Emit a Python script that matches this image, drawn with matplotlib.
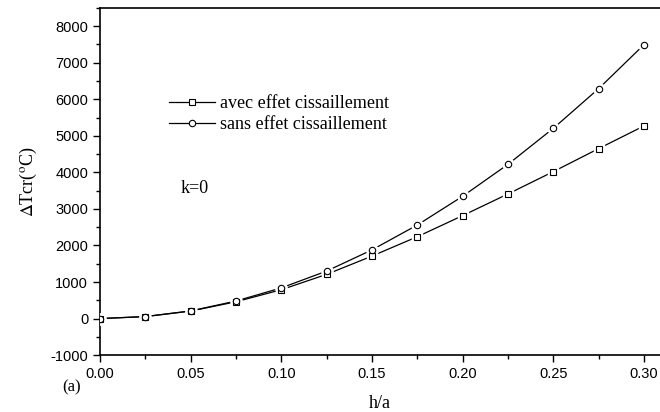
import numpy as np
import matplotlib.pyplot as plt
from matplotlib.ticker import MultipleLocator

plt.rcParams['mathtext.fontset'] = 'stix'
plt.rcParams['axes.unicode_minus'] = False

h_a = [0.0, 0.025, 0.05, 0.075, 0.1, 0.125, 0.15, 0.175, 0.2, 0.225, 0.25, 0.275, 0.3]
avec = [0, 55, 205, 460, 790, 1210, 1710, 2240, 2817, 3410, 4020, 4650, 5270]
sans = [0, 55, 210, 480, 840, 1300, 1880, 2560, 3346, 4220, 5205, 6291, 7494]

serif = 'Liberation Serif'
sans_font = 'Liberation Sans'

fig = plt.figure(figsize=(6.6, 4.12), dpi=100)
ax = fig.add_axes([0.1515, 0.138, 0.8485, 0.843])

for y, m, lab in [(avec, 's', 'avec effet cissaillement'), (sans, 'o', 'sans effet cissaillement')]:
    size = 3.8 if m == 's' else 4.6
    ax.plot(h_a, y, color='black', lw=0.9, zorder=2)
    # white halo so the line stops short of each marker
    ax.plot(h_a, y, ls='none', marker=m, ms=size + 3.5, mfc='white', mec='white', zorder=3)
    ax.plot(h_a, y, ls='none', marker=m, ms=size, mfc='white',
            mec='black', mew=0.8, zorder=4)
    ax.plot([], [], color='black', lw=0.9, marker=m, ms=size,
            mfc='white', mec='black', mew=0.8, label=lab)

ax.set_xlim(0, 0.3088)
ax.set_ylim(-1000, 8500)
ax.xaxis.set_minor_locator(MultipleLocator(0.025))
ax.yaxis.set_minor_locator(MultipleLocator(500))
ax.set_xticks(np.arange(0, 0.31, 0.05))
ax.set_xticklabels(['%.2f' % v for v in np.arange(0, 0.31, 0.05)])
ax.set_yticks(np.arange(-1000, 8001, 1000))
ax.tick_params(which='major', direction='out', length=5, width=1, labelsize=10.5)
ax.tick_params(which='minor', direction='out', length=3, width=1)
for lbl in ax.get_xticklabels() + ax.get_yticklabels():
    lbl.set_family(sans_font)
ax.spines['right'].set_visible(False)
for s in ['left', 'bottom', 'top']:
    ax.spines[s].set_linewidth(1.2)

ax.set_xlabel('h/a', fontsize=13, family=serif, labelpad=10)
ax.set_ylabel(r'$\Delta$Tcr($^{\rm o}$C)', fontsize=13, family=serif, labelpad=8)

leg = ax.legend(loc='upper left', bbox_to_anchor=(0.108, 0.774), frameon=False,
                prop={'family': serif, 'size': 13}, handlelength=2.5,
                handletextpad=0.3, labelspacing=0.2, borderpad=0)
ax.text(0.052, 3560, 'k=0', fontsize=13, family=serif, ha='center', va='center')
fig.text(0.109, 0.06, '(a)', fontsize=12, family=serif, ha='center', va='center')

fig.savefig('out.png', dpi=100)
